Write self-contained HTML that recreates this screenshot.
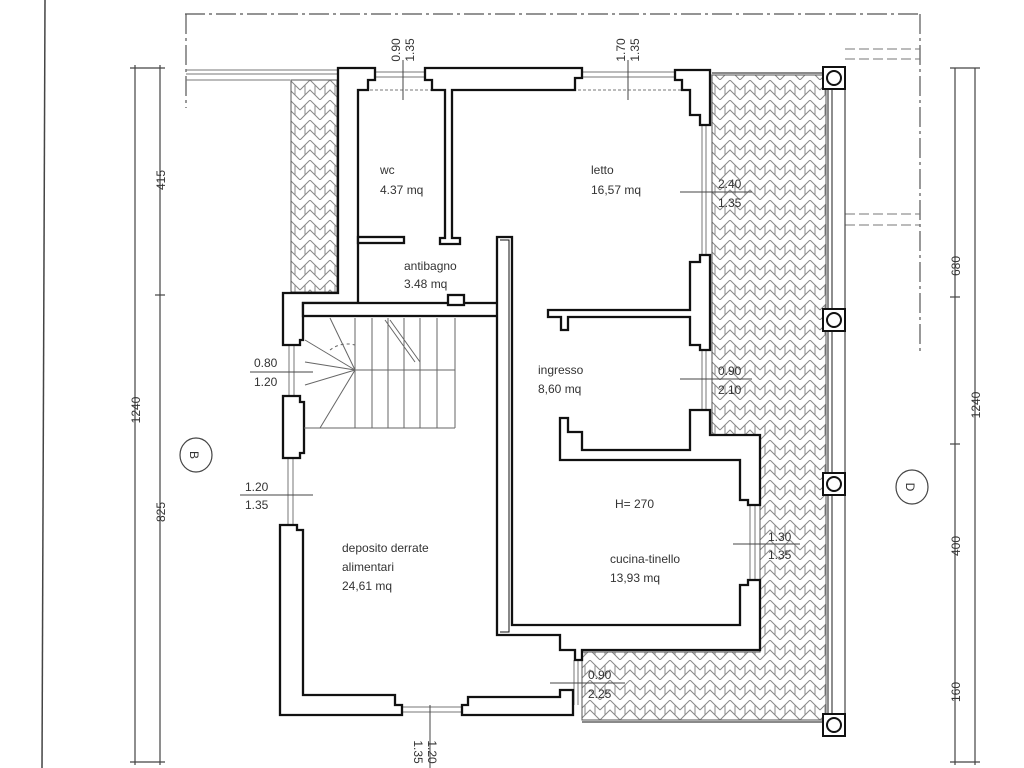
<!DOCTYPE html>
<html><head><meta charset="utf-8"><style>
html,body{margin:0;padding:0;background:#fff;}
svg{display:block;}
text{font-family:"Liberation Sans",sans-serif;fill:#333;font-size:12px;}
</style></head><body>
<svg width="1024" height="768" viewBox="0 0 1024 768" xmlns="http://www.w3.org/2000/svg">
<defs>
<pattern id="hb" width="20" height="20" patternUnits="userSpaceOnUse">
<path d="M0 10 L10 0 L20 10 M0 20 L10 10 L20 20 M5 5 L5 15 M15 5 L15 15" fill="none" stroke="#888" stroke-width="1"/>
</pattern>
</defs>
<rect width="1024" height="768" fill="#fff"/>
<line x1="45" y1="0" x2="42" y2="768" stroke="#444" stroke-width="1.5"/>
<g stroke="#555" stroke-width="1.2" stroke-dasharray="20,4,3,4" fill="none">
<line x1="185" y1="14" x2="920" y2="14"/>
<line x1="186" y1="14" x2="186" y2="108"/>
<line x1="920" y1="14" x2="920" y2="355"/>
</g>
<g stroke="#777" stroke-width="1">
<line x1="186" y1="70" x2="340" y2="70"/><line x1="186" y1="74" x2="340" y2="74"/><line x1="186" y1="80" x2="290" y2="80"/>
<line x1="845" y1="49" x2="920" y2="49" stroke-dasharray="10,4"/>
<line x1="845" y1="59" x2="920" y2="59" stroke-dasharray="10,4"/>
<line x1="845" y1="214" x2="920" y2="214" stroke-dasharray="10,4"/>
<line x1="845" y1="225" x2="920" y2="225" stroke-dasharray="10,4"/>
</g>
<rect x="291" y="80" width="46" height="212" fill="url(#hb)" stroke="#555" stroke-width="1"/>
<path d="M712 75 L826 75 L826 720 L582 720 L582 652 L760 652 L760 435 L712 435 Z" fill="url(#hb)" stroke="#555" stroke-width="1"/>
<g stroke="#444" stroke-width="1.2">
<line x1="828" y1="75" x2="828" y2="722"/><line x1="832" y1="75" x2="832" y2="722"/>
<line x1="845" y1="80" x2="845" y2="722"/>
<line x1="712" y1="73" x2="828" y2="73"/>
<line x1="582" y1="722" x2="845" y2="722"/>
</g>
<g stroke="#777" stroke-width="1">
<line x1="375" y1="72" x2="425" y2="72"/><line x1="375" y1="77" x2="425" y2="77"/><line x1="370" y1="90" x2="432" y2="90" stroke-dasharray="3,2"/>
<line x1="582" y1="72" x2="675" y2="72"/><line x1="582" y1="77" x2="675" y2="77"/><line x1="578" y1="90" x2="682" y2="90" stroke-dasharray="3,2"/>
<line x1="702" y1="125" x2="702" y2="255"/><line x1="706" y1="125" x2="706" y2="255"/>
<line x1="702" y1="350" x2="702" y2="410"/><line x1="706" y1="350" x2="706" y2="410"/>
<line x1="750" y1="505" x2="750" y2="580"/><line x1="755" y1="505" x2="755" y2="580"/>
<line x1="289" y1="345" x2="289" y2="396"/><line x1="294" y1="345" x2="294" y2="396"/>
<line x1="288" y1="458" x2="288" y2="525"/><line x1="293" y1="458" x2="293" y2="525"/>
<line x1="574" y1="660" x2="574" y2="705"/><line x1="578" y1="660" x2="578" y2="705"/>
<line x1="400" y1="707" x2="462" y2="707"/><line x1="400" y1="712" x2="462" y2="712"/>
</g>
<g fill="#fff" stroke="#111" stroke-width="2.3" stroke-linejoin="miter">
<path d="M338 68 L375 68 L375 80 L368 80 L368 90 L358 90 L358 303 L303 303 L303 340 L300 340 L300 345 L283 345 L283 293 L338 293 Z"/>
<rect x="303" y="303" width="200" height="13"/>
<rect x="448" y="295" width="16" height="10"/>
<path d="M283 396 L300 396 L300 402 L304 402 L304 453 L300 453 L300 458 L283 458 Z"/>
<path d="M280 525 L297 525 L297 530 L303 530 L303 695 L395 695 L395 705 L402 705 L402 715 L280 715 Z"/>
<path d="M462 715 L462 705 L468 705 L468 697 L560 697 L560 690 L573 690 L573 715 Z"/>
<path d="M425 68 L582 68 L582 78 L575 78 L575 90 L452 90 L452 238 L460 238 L460 244 L440 244 L440 238 L445 238 L445 90 L432 90 L432 80 L425 80 Z"/>
<rect x="358" y="237" width="46" height="6"/>
<path d="M675 70 L710 70 L710 125 L700 125 L700 115 L690 115 L690 90 L682 90 L682 80 L675 80 Z"/>
<path d="M548 310 L690 310 L690 262 L700 262 L700 255 L710 255 L710 350 L700 350 L700 345 L690 345 L690 317 L568 317 L568 330 L561 330 L561 317 L548 317 Z"/>
<path d="M690 410 L710 410 L710 435 L760 435 L760 505 L748 505 L748 500 L740 500 L740 460 L560 460 L560 418 L568 418 L568 432 L582 432 L582 450 L690 450 Z"/>
<path d="M497 237 L512 237 L512 625 L740 625 L740 585 L748 585 L748 580 L760 580 L760 650 L582 650 L582 660 L575 660 L575 650 L560 650 L560 635 L497 635 Z"/>
<path d="M500 240 L509 240 L509 632 L500 632" fill="none" stroke-width="1"/>
</g>
<g fill="#fff" stroke="#111" stroke-width="2">
<rect x="823" y="67" width="22" height="22"/><circle cx="834" cy="78" r="7"/>
<rect x="823" y="309" width="22" height="22"/><circle cx="834" cy="320" r="7"/>
<rect x="823" y="473" width="22" height="22"/><circle cx="834" cy="484" r="7"/>
<rect x="823" y="714" width="22" height="22"/><circle cx="834" cy="725" r="7"/>
</g>
<g stroke="#666" stroke-width="1" fill="none">
<line x1="304" y1="428" x2="455" y2="428"/>
<line x1="355" y1="370" x2="455" y2="370"/>
<line x1="372" y1="318" x2="372" y2="428"/><line x1="388" y1="318" x2="388" y2="428"/>
<line x1="404" y1="318" x2="404" y2="428"/><line x1="420" y1="318" x2="420" y2="428"/>
<line x1="437" y1="318" x2="437" y2="428"/><line x1="455" y1="318" x2="455" y2="428"/>
<line x1="355" y1="318" x2="355" y2="428"/>
<line x1="355" y1="370" x2="305" y2="340"/><line x1="355" y1="370" x2="305" y2="362"/>
<line x1="355" y1="370" x2="305" y2="385"/><line x1="355" y1="370" x2="320" y2="428"/>
<line x1="355" y1="370" x2="330" y2="318"/>
<line x1="385" y1="320" x2="415" y2="362"/><line x1="390" y1="320" x2="420" y2="362"/>
<path d="M330 350 A28 28 0 0 1 355 345" stroke-dasharray="3,3"/>
</g>
<g stroke="#444" stroke-width="1">
<line x1="403" y1="60" x2="403" y2="100"/>
<line x1="628" y1="60" x2="628" y2="100"/>
<line x1="430" y1="705" x2="430" y2="768"/>
<line x1="250" y1="372" x2="313" y2="372"/>
<line x1="240" y1="495" x2="313" y2="495"/>
<line x1="680" y1="192" x2="752" y2="192"/>
<line x1="680" y1="379" x2="752" y2="379"/>
<line x1="733" y1="544" x2="800" y2="544"/>
<line x1="550" y1="683" x2="625" y2="683"/>
</g>
<g stroke="#444" stroke-width="1.2">
<line x1="135" y1="65" x2="135" y2="765"/>
<line x1="160" y1="65" x2="160" y2="765"/>
<line x1="130" y1="68" x2="165" y2="68"/><line x1="155" y1="295" x2="165" y2="295"/>
<line x1="130" y1="762" x2="165" y2="762"/>
<line x1="955" y1="68" x2="955" y2="765"/>
<line x1="975" y1="68" x2="975" y2="765"/>
<line x1="950" y1="68" x2="980" y2="68"/><line x1="950" y1="297" x2="960" y2="297"/>
<line x1="950" y1="444" x2="960" y2="444"/>
<line x1="950" y1="762" x2="980" y2="762"/>
</g>
<g font-size="12">
<text transform="translate(165,180) rotate(-90)" text-anchor="middle">415</text>
<text transform="translate(140,410) rotate(-90)" text-anchor="middle">1240</text>
<text transform="translate(165,512) rotate(-90)" text-anchor="middle">825</text>
<text transform="translate(960,266) rotate(-90)" text-anchor="middle">680</text>
<text transform="translate(980,405) rotate(-90)" text-anchor="middle">1240</text>
<text transform="translate(960,546) rotate(-90)" text-anchor="middle">400</text>
<text transform="translate(960,692) rotate(-90)" text-anchor="middle">160</text>
<text transform="translate(400,50) rotate(-90)" text-anchor="middle">0.90</text>
<text transform="translate(414,50) rotate(-90)" text-anchor="middle">1.35</text>
<text transform="translate(625,50) rotate(-90)" text-anchor="middle">1.70</text>
<text transform="translate(639,50) rotate(-90)" text-anchor="middle">1.35</text>
<text transform="translate(428,752) rotate(90)" text-anchor="middle">1.20</text>
<text transform="translate(414,752) rotate(90)" text-anchor="middle">1.35</text>
</g>
<g fill="none" stroke="#444" stroke-width="1.2">
<ellipse cx="196" cy="455" rx="16" ry="17"/>
<ellipse cx="912" cy="487" rx="16" ry="17"/>
</g>
<text transform="translate(190,455) rotate(90)" text-anchor="middle" font-size="16">B</text>
<text transform="translate(906,487) rotate(90)" text-anchor="middle" font-size="16">D</text>
<text x="254" y="367">0.80</text><text x="254" y="386">1.20</text>
<text x="245" y="491">1.20</text><text x="245" y="509">1.35</text>
<text x="718" y="188">2.40</text><text x="718" y="207">1.35</text>
<text x="718" y="375">0.90</text><text x="718" y="394">2.10</text>
<text x="768" y="541">1.30</text><text x="768" y="559">1.35</text>
<text x="588" y="679">0.90</text><text x="588" y="698">2.25</text>
<text x="380" y="174">wc</text><text x="380" y="194">4.37 mq</text>
<text x="591" y="174">letto</text><text x="591" y="194">16,57 mq</text>
<text x="404" y="270">antibagno</text><text x="404" y="288">3.48 mq</text>
<text x="538" y="374">ingresso</text><text x="538" y="393">8,60 mq</text>
<text x="615" y="508">H= 270</text>
<text x="610" y="563">cucina-tinello</text><text x="610" y="582">13,93 mq</text>
<text x="342" y="552">deposito derrate</text><text x="342" y="571">alimentari</text><text x="342" y="590">24,61 mq</text>
</svg>
</body></html>
